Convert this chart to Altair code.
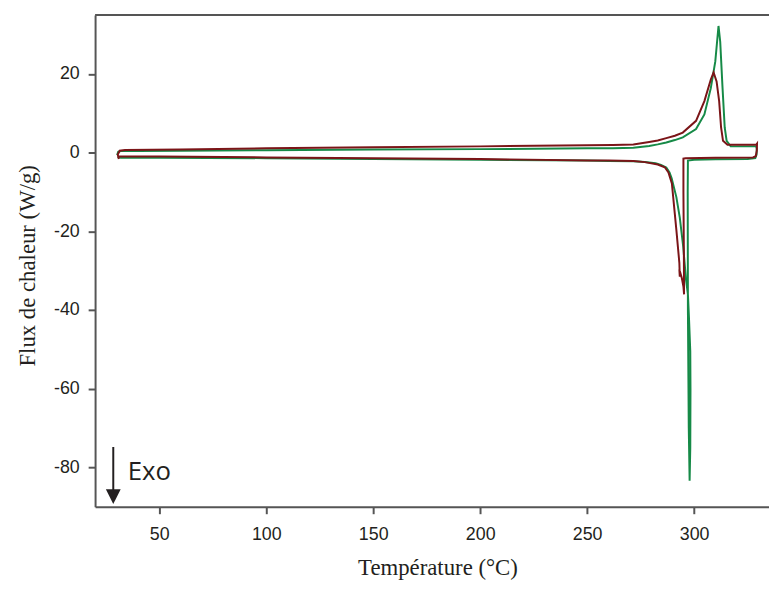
import altair as alt
import pandas as pd

# ---- data (temperature °C, heat flow W/g) ----
green_T = [30.3, 30.8, 32, 40, 60, 100, 150, 200, 250, 262, 271.6, 279, 283, 287.0, 291,
           294.7, 300.9, 304.8, 307.8, 309.9, 311.4, 312.2, 313.2, 314.3, 315.2, 317.1,
           329.0, 329.3, 329.2, 328.6, 325, 310, 300, 297.1, 297.0, 297.1, 297.5, 297.9,
           298.2, 298.3, 298.2, 297.6, 297.1, 296.2, 294.9, 293.3, 291.7, 289.5, 288.5,
           287.0, 284.5, 282, 277, 271.6, 260, 250, 200, 150, 100, 50, 32, 30.5]
green_F = [-0.6, 0.2, 0.4, 0.4, 0.5, 0.6, 0.8, 0.9, 1.1, 1.15, 1.25, 1.7, 2.1, 2.6, 3.2,
           3.9, 6.0, 9.7, 16.4, 23.2, 32.2, 28.2, 17.3, 6.4, 3.0, 1.6,
           1.6, 1.0, -0.5, -1.4, -1.6, -1.7, -1.8, -2.0, -10, -40, -70, -83.4,
           -75, -60, -50.5, -42, -36, -32.2, -23.9, -16.5, -11.3, -6.5, -5.0,
           -3.8, -3.1, -2.7, -2.4, -2.2, -2.1, -2.0, -1.8, -1.6, -1.4, -1.3, -1.3, -1.1]

red_T = [31.1, 30.6, 31.5, 34, 60, 100, 150, 200, 250, 262, 271.6, 279, 283, 287.0, 291,
         294.7, 300.9, 304.8, 307.8, 309.1, 310.5, 311.7, 312.6, 313.5, 315.6, 329.0,
         329.4, 329.3, 328.8, 327.5, 310, 296, 295.0, 295.0, 295.2, 295.3, 295.0, 294.3,
         293.1, 293.3, 293.1, 291.7, 289.6, 288, 286.3, 283, 277, 271.6, 260, 250, 200,
         150, 100, 50, 32, 30.8]
red_F = [-1.6, -0.5, 0.5, 0.7, 0.8, 1.1, 1.4, 1.6, 1.9, 1.95, 2.05, 2.7, 3.1, 3.7, 4.3,
         5.1, 8.1, 13.1, 18.6, 20.4, 18.1, 13.1, 6.4, 3.0, 2.0, 2.0,
         2.3, 0.5, -0.9, -1.2, -1.3, -1.4, -1.5, -10, -25, -36, -34, -32,
         -29.7, -31.5, -28, -19.6, -7.8, -5.0, -3.7, -3.0, -2.4, -2.1, -2.0, -2.0, -1.6,
         -1.4, -1.2, -1.0, -1.0, -0.9]

series_names = ["Échantillon A", "Échantillon B"]
series_colors = ["#168a47", "#7b1518"]

x_ticks = [50, 100, 150, 200, 250, 300]
y_ticks = [-80, -60, -40, -20, 0, 20]
x_domain = [20, 335]
y_domain = [-90, 35]

arrow_T = [28.5]
arrow_top = [-74.8]
arrow_bottom = [-86.5]
arrow_head = [-87.4]
exo_T = [35.3]
exo_F = [-83.1]
exo_label = ["Exo"]

# ---- build tables ----
rows = []
for name, T, F in [(series_names[0], green_T, green_F), (series_names[1], red_T, red_F)]:
    for i, (t, f) in enumerate(zip(T, F)):
        rows.append({"serie": name, "T": t, "F": f, "i": i})
df = pd.DataFrame(rows)

x_scale = alt.Scale(domain=x_domain, nice=False, zero=False)
y_scale = alt.Scale(domain=y_domain, nice=False, zero=False)

axis_common = dict(
    grid=False, domainColor="#555555", domainWidth=2, tickColor="#555555", tickWidth=2,
    tickSize=7, labelFont="Liberation Sans", labelFontSize=18, labelColor="#231f20",
    titleFont="Liberation Serif", titleFontSize=23, titleFontWeight="normal",
    titleColor="#231f20", labelExpr="'' + datum.value",
)

x_axis = alt.Axis(values=x_ticks, title="Température (°C)", labelPadding=12,
                  titleX=346, titleY=68, titleBaseline="alphabetic", titleAlign="center",
                  **axis_common)
y_axis = alt.Axis(values=y_ticks, title="Flux de chaleur (W/g)", labelPadding=9,
                  titleAngle=270, titleX=-61, titleY=253, titleBaseline="alphabetic",
                  titleAlign="center", **axis_common)

lines = alt.Chart(df).mark_line(strokeWidth=2, clip=True).encode(
    x=alt.X("T:Q", scale=x_scale, axis=x_axis),
    y=alt.Y("F:Q", scale=y_scale, axis=y_axis),
    color=alt.Color("serie:N", scale=alt.Scale(domain=series_names, range=series_colors),
                    legend=None),
    detail="serie:N",
    order="i:Q",
)

top_frame = alt.Chart(pd.DataFrame({"F": [y_domain[1]]})).mark_rule(
    color="#555555", strokeWidth=2
).encode(y=alt.Y("F:Q", scale=y_scale))

arrow_df = pd.DataFrame({"T": arrow_T, "top": arrow_top, "bottom": arrow_bottom,
                         "head": arrow_head})
arrow_line = alt.Chart(arrow_df).mark_rule(color="#231f20", strokeWidth=2).encode(
    x=alt.X("T:Q", scale=x_scale), y=alt.Y("top:Q", scale=y_scale), y2="bottom:Q"
)
arrow_tip = alt.Chart(arrow_df).mark_point(
    shape="M-1,-1L1,-1L0,1Z", size=225, filled=True, color="#231f20", opacity=1,
    strokeWidth=0,
).encode(x=alt.X("T:Q", scale=x_scale), y=alt.Y("head:Q", scale=y_scale))

exo_df = pd.DataFrame({"T": exo_T, "F": exo_F, "label": exo_label})
exo_text = alt.Chart(exo_df).mark_text(
    font="Open Sans", fontSize=26, color="#231f20", align="left", baseline="alphabetic"
).encode(x=alt.X("T:Q", scale=x_scale), y=alt.Y("F:Q", scale=y_scale), text="label:N")

chart = alt.layer(lines, top_frame, arrow_line, arrow_tip, exo_text).properties(
    width=681, height=497,
    autosize=alt.AutoSizeParams(type="none"),
    padding={"left": 88, "top": 4, "right": 0, "bottom": 75},
    background="white",
).configure_view(stroke=None)

chart.save("out.html", embed_options={"renderer": "svg", "actions": False})
